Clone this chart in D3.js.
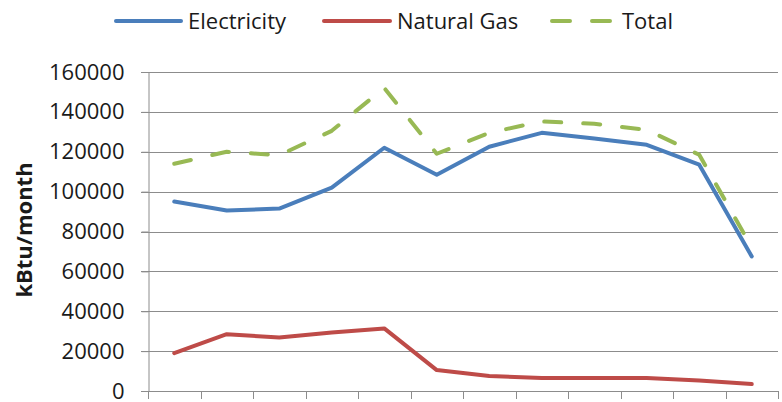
<!DOCTYPE html>
<html>
<head>
<meta charset="utf-8">
<script src="https://cdn.jsdelivr.net/npm/d3@7"></script>
<style>
  html, body { margin: 0; padding: 0; background: #fff; }
  svg { display: block; }
  text { font-family: "Open Sans", "Liberation Sans", sans-serif; fill: #1a1a1a; }
</style>
</head>
<body>
<svg id="chart" width="782" height="402"></svg>
<script>
const categories = ["1","2","3","4","5","6","7","8","9","10","11","12"];
const electricity = [95000, 90500, 91500, 102000, 122000, 108500, 122500, 129500, 126700, 123500, 113500, 67500];
const naturalGas  = [19000, 28500, 26800, 29300, 31400, 10500, 7500, 6500, 6500, 6500, 5300, 3500];
const total       = [114000, 120000, 118300, 130500, 152000, 119000, 129500, 135200, 134000, 131000, 118500, 72000];
const yTicks = [0, 20000, 40000, 60000, 80000, 100000, 120000, 140000, 160000];
const seriesNames = ["Electricity", "Natural Gas", "Total"];
const seriesColors = ["#4a7ebb", "#be4b48", "#98b954"];

const svg = d3.select("#chart");
const m = { left: 148, right: 778, top: 72, bottom: 391 };

const x = d3.scaleBand().domain(categories).range([m.left, m.right]);
const y = d3.scaleLinear().domain([0, 160000]).range([m.bottom, m.top]);
const cx = c => x(c) + x.bandwidth() / 2;

// gridlines
svg.append("g").selectAll("line").data(yTicks.filter(v => v > 0)).join("line")
  .attr("x1", m.left - 7).attr("x2", m.right)
  .attr("y1", d => Math.round(y(d)) + 0.5).attr("y2", d => Math.round(y(d)) + 0.5)
  .attr("stroke", "#8c8c8c").attr("stroke-width", 1);

// y axis
const yAxis = svg.append("g").attr("transform", `translate(${m.left + 0.5},0)`)
  .call(d3.axisLeft(y).tickValues(yTicks).tickSize(7).tickSizeOuter(0).tickPadding(17).tickFormat(d3.format("d")));
yAxis.select(".domain").attr("stroke", "#8c8c8c");
yAxis.selectAll(".tick line").attr("stroke", "#8c8c8c");
yAxis.selectAll(".tick text").attr("font-size", "22px").attr("fill", "#1a1a1a")
  .attr("font-family", "'Open Sans', 'Liberation Sans', sans-serif");

// x axis baseline + tick marks between categories
const bounds = categories.map(c => x(c)).concat([x.range()[1]]);
svg.append("line").attr("x1", m.left - 7).attr("x2", m.right)
  .attr("y1", Math.round(y(0)) + 0.5).attr("y2", Math.round(y(0)) + 0.5)
  .attr("stroke", "#8c8c8c");
svg.append("g").selectAll("line").data(bounds).join("line")
  .attr("x1", d => Math.round(d) + 0.5).attr("x2", d => Math.round(d) + 0.5)
  .attr("y1", Math.round(y(0))).attr("y2", Math.round(y(0)) + 8)
  .attr("stroke", "#8c8c8c");

// y title
svg.append("text")
  .attr("transform", `translate(32,230) rotate(-90)`)
  .attr("text-anchor", "middle")
  .attr("font-size", "22px").attr("font-weight", "bold")
  .text("kBtu/month");

// lines
const line = d3.line().x((d, i) => cx(categories[i])).y(d => y(d));
const data = [electricity, naturalGas, total];
data.forEach((vals, i) => {
  svg.append("path").datum(vals)
    .attr("d", line)
    .attr("fill", "none")
    .attr("stroke", seriesColors[i])
    .attr("stroke-width", 4)
    .attr("stroke-linejoin", "round")
    .attr("stroke-linecap", i === 2 ? "round" : "round")
    .attr("stroke-dasharray", i === 2 ? "17,22" : null);
});

// legend
const legendItems = [
  { name: seriesNames[0], x0: 116, x1: 181, tx: 188 },
  { name: seriesNames[1], x0: 324, x1: 390, tx: 397 },
  { name: seriesNames[2], x0: 552, x1: 610, tx: 622 }
];
const lg = svg.append("g");
legendItems.forEach((it, i) => {
  lg.append("line").attr("x1", it.x0).attr("x2", it.x1).attr("y1", 21).attr("y2", 21)
    .attr("stroke", seriesColors[i]).attr("stroke-width", 4).attr("stroke-linecap", "round")
    .attr("stroke-dasharray", i === 2 ? "18,22" : null);
  lg.append("text").attr("x", it.tx).attr("y", 21).attr("dy", "0.35em")
    .attr("font-size", "22px").text(it.name);
});
</script>
</body>
</html>
